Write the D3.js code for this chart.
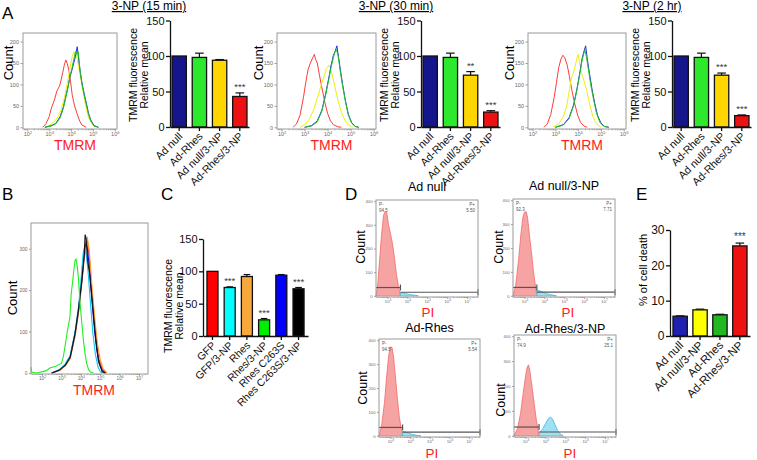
<!DOCTYPE html>
<html><head><meta charset="utf-8">
<script src="https://cdn.jsdelivr.net/npm/d3@7"></script>
<style>body{margin:0;background:#fff}svg{display:block}</style>
</head><body>
<script>
// ================= DATA =================
const groupsA = ["Ad null", "Ad-Rhes", "Ad null/3-NP", "Ad-Rhes/3-NP"];
const titlesA = ["3-NP (15 min)", "3-NP (30 min)", "3-NP (2 hr)"];
const meanA15 = [100, 98, 94, 43];
const errA15 = [0, 6, 1, 5];
const sigA15 = ["", "", "", "***"];
const meanA30 = [100, 98, 73, 21];
const errA30 = [0, 6, 5, 2];
const sigA30 = ["", "", "**", "***"];
const meanA2h = [100, 98, 73, 16];
const errA2h = [0, 6, 3, 1];
const sigA2h = ["", "", "***", "***"];
const barTicksA = [0, 50, 100, 150];

const histXTicksA = [2, 3, 4, 5, 6];
const histYTicksA = [0, 50, 100, 150, 200];
// histogram traces: [log10(TMRM), count]
const hA15red = [[2.7,0],[2.85,8],[3.0,25],[3.1,45],[3.24,64],[3.35,85],[3.47,96],[3.55,112],[3.62,128],[3.7,148],[3.76,157],[3.83,148],[3.9,132],[3.98,105],[4.05,76],[4.15,52],[4.27,32],[4.4,14],[4.5,5],[4.7,0]];
const hA15yel = [[2.8,0],[3.0,4],[3.2,12],[3.4,24],[3.55,42],[3.7,70],[3.85,110],[3.95,138],[4.05,165],[4.12,176],[4.18,170],[4.25,168],[4.35,140],[4.5,96],[4.65,55],[4.8,22],[5.0,5],[5.2,0]];
const hA15blu = [[2.8,0],[3.1,4],[3.3,9],[3.5,25],[3.65,48],[3.76,72],[3.88,100],[3.95,118],[4.05,135],[4.12,150],[4.2,165],[4.28,188],[4.35,157],[4.42,130],[4.5,103],[4.6,78],[4.7,56],[4.8,32],[4.9,17],[5.05,4],[5.25,0]];
const hA15grn = [[2.8,0],[3.1,3],[3.3,8],[3.5,22],[3.65,45],[3.76,70],[3.88,98],[3.95,120],[4.05,140],[4.12,158],[4.18,172],[4.22,178],[4.27,170],[4.33,176],[4.4,135],[4.5,100],[4.6,75],[4.7,52],[4.8,30],[4.9,15],[5.05,3],[5.25,0]];

const hA30red = [[2.5,0],[2.65,8],[2.8,28],[2.95,70],[3.05,105],[3.15,135],[3.25,150],[3.35,162],[3.42,170],[3.48,158],[3.55,150],[3.65,120],[3.75,92],[3.88,58],[4.0,32],[4.12,15],[4.25,6],[4.45,1],[4.6,0]];
const hA30yel = [[2.8,0],[3.0,6],[3.2,18],[3.4,42],[3.55,68],[3.7,95],[3.85,120],[3.95,137],[4.05,145],[4.12,138],[4.2,122],[4.3,98],[4.45,62],[4.6,35],[4.75,16],[4.9,6],[5.1,0]];
const hA30blu = [[3.0,0],[3.3,4],[3.55,15],[3.75,40],[3.9,75],[4.05,115],[4.15,145],[4.25,168],[4.33,178],[4.4,190],[4.47,165],[4.55,135],[4.65,100],[4.78,60],[4.9,30],[5.05,10],[5.2,2],[5.35,0]];
const hA30grn = [[3.0,0],[3.3,3],[3.55,13],[3.75,38],[3.9,72],[4.05,112],[4.15,140],[4.25,163],[4.32,176],[4.38,181],[4.45,168],[4.55,130],[4.65,96],[4.78,58],[4.9,28],[5.05,9],[5.2,2],[5.35,0]];

const hA2hred = [[2.5,0],[2.65,8],[2.8,30],[2.95,70],[3.05,105],[3.15,140],[3.25,160],[3.33,168],[3.42,162],[3.52,145],[3.62,118],[3.72,88],[3.85,55],[3.98,28],[4.1,12],[4.25,3],[4.4,0]];
const hA2hyel = [[2.9,0],[3.15,8],[3.35,25],[3.5,50],[3.62,88],[3.7,115],[3.78,125],[3.86,140],[3.94,160],[4.0,170],[4.06,152],[4.14,128],[4.25,110],[4.38,85],[4.5,55],[4.65,25],[4.8,8],[5.0,0]];
const hA2hblu = [[3.0,0],[3.35,6],[3.6,22],[3.8,52],[3.95,90],[4.08,130],[4.18,162],[4.26,178],[4.33,190],[4.4,160],[4.5,125],[4.6,92],[4.72,58],[4.85,28],[5.0,10],[5.15,2],[5.35,0]];
const hA2hgrn = [[3.0,0],[3.35,5],[3.6,20],[3.8,50],[3.95,88],[4.08,126],[4.18,158],[4.25,172],[4.3,180],[4.36,165],[4.45,135],[4.55,100],[4.68,64],[4.8,34],[4.95,12],[5.1,3],[5.3,0]];

// Panel B
const histXTicksB = [2, 3, 4, 5, 6, 7];
const histYTicksB = [0, 100, 200, 300];
const hBgreen = [[1.43,14],[1.46,2],[1.7,0],[2.2,5],[2.4,12],[2.7,16],[3.0,23],[3.1,40],[3.18,63],[3.3,100],[3.44,136],[3.5,190],[3.55,210],[3.62,240],[3.7,272],[3.75,275],[3.8,262],[3.87,232],[3.96,168],[4.05,120],[4.13,80],[4.22,45],[4.3,23],[4.4,8],[4.5,2],[4.65,0]];
const hBred    = [[2.5,0],[2.9,6],[3.2,18],[3.45,36],[3.7,90],[3.88,148],[4.05,220],[4.18,282],[4.28,318],[4.33,322],[4.42,285],[4.55,200],[4.68,128],[4.8,70],[4.95,30],[5.1,10],[5.3,0]];
const hBorange = [[2.5,0],[2.9,6],[3.2,17],[3.45,35],[3.7,88],[3.88,145],[4.05,215],[4.18,280],[4.28,320],[4.34,326],[4.44,292],[4.58,205],[4.72,130],[4.85,72],[5.0,32],[5.15,10],[5.35,0]];
const hBblue   = [[2.5,0],[2.9,8],[3.2,20],[3.45,40],[3.7,96],[3.88,152],[4.05,225],[4.17,285],[4.26,312],[4.32,305],[4.4,272],[4.55,185],[4.7,105],[4.82,55],[4.95,22],[5.1,6],[5.25,0]];
const hBcyan   = [[2.5,0],[2.9,8],[3.2,22],[3.45,42],[3.7,100],[3.88,160],[4.02,232],[4.12,290],[4.2,306],[4.28,285],[4.38,240],[4.5,165],[4.62,95],[4.75,45],[4.88,15],[5.0,3],[5.1,0]];
const hBblack  = [[2.5,0],[2.9,7],[3.2,19],[3.45,38],[3.7,95],[3.87,151],[4.05,223],[4.17,283],[4.22,334],[4.27,325],[4.35,270],[4.45,240],[4.57,183],[4.74,95],[4.9,30],[5.1,3],[5.27,0]];

// Panel C
const groupsC = ["GFP", "GFP/3-NP", "Rhes", "Rhes/3-NP", "Rhes C263S", "Rhes C263S/3-NP"];
const meanC = [100, 75, 92, 25, 94, 73];
const errC = [0, 1, 3, 2, 1, 2];
const sigC = ["", "***", "", "***", "", "***"];
const barTicksC = [0, 50, 100, 150];

// Panel D
const titlesD = ["Ad null", "Ad null/3-NP", "Ad-Rhes", "Ad-Rhes/3-NP"];
const pNegD = ["94.5", "92.3", "94.5", "74.9"];
const pPosD = ["5.50", "7.71", "5.54", "25.1"];
const gateD = [3.65, 3.62, 3.62, 3.68];
const histXTicksD = [3, 4, 5, 6, 7];
const histYTicksD = [0, 100, 200, 300, 400];
const dRed = [
  [[2.42,0],[2.5,40],[2.6,150],[2.7,260],[2.8,340],[2.88,356],[2.96,352],[3.05,300],[3.15,262],[3.25,220],[3.35,160],[3.45,90],[3.55,40],[3.65,0]],
  [[2.42,0],[2.55,40],[2.7,150],[2.82,260],[2.92,330],[3.0,350],[3.08,352],[3.15,330],[3.25,250],[3.35,180],[3.45,100],[3.55,40],[3.62,0]],
  [[2.42,0],[2.55,40],[2.7,140],[2.82,260],[2.92,340],[3.0,372],[3.08,370],[3.16,330],[3.25,250],[3.35,160],[3.45,80],[3.55,30],[3.62,0]],
  [[2.42,0],[2.6,30],[2.75,90],[2.88,170],[3.0,240],[3.08,275],[3.15,285],[3.22,260],[3.32,200],[3.45,120],[3.55,60],[3.68,0]]
];
const dBlue = [
  [[3.65,0],[3.65,14],[3.8,12],[3.95,9],[4.1,6],[4.3,3],[4.55,0]],
  [[3.62,0],[3.62,24],[3.78,20],[3.95,14],[4.15,8],[4.35,4],[4.6,0]],
  [[3.62,0],[3.62,18],[3.78,15],[3.95,10],[4.15,5],[4.35,2],[4.55,0]],
  [[3.68,0],[3.68,10],[3.85,26],[4.0,48],[4.12,66],[4.25,75],[4.35,68],[4.48,45],[4.62,20],[4.78,5],[4.9,0]]
];

// Panel E
const groupsE = ["Ad null", "Ad null/3-NP", "Ad-Rhes", "Ad-Rhes/3-NP"];
const meanE = [5.6, 7.4, 6.0, 25.5];
const errE = [0.1, 0.2, 0.15, 0.8];
const sigE = ["", "", "", "***"];
const barTicksE = [0, 10, 20, 30];

// ================= DRAWING =================
const FONT = "'Liberation Sans', Arial, Helvetica, sans-serif";
const svg = d3.select("body").append("svg").attr("width", 757).attr("height", 460)
  .attr("font-family", FONT);
svg.append("rect").attr("width", 757).attr("height", 460).attr("fill", "#fff");

function text(g, x, y, s, o = {}) {
  const t = g.append("text").attr("x", x).attr("y", y).text(s)
    .attr("font-size", o.fs || 12).attr("fill", o.fill || "#000")
    .attr("text-anchor", o.anchor || "start");
  if (o.deco) t.attr("text-decoration", o.deco);
  return t;
}
function vtext(g, x, y, s, o = {}) {
  return g.append("text").attr("transform", `translate(${x},${y}) rotate(-90)`)
    .attr("text-anchor", "middle").attr("font-size", o.fs || 12)
    .attr("fill", o.fill || "#000").text(s);
}

function histFrame(g, box, xDom, yDom, xMaj, yTicks, fs, tk) {
  const x = d3.scaleLinear().domain(xDom).range([box.x, box.x + box.w]);
  const y = d3.scaleLinear().domain(yDom).range([box.y + box.h, box.y]);
  const minors = [];
  for (let e = Math.floor(xDom[0]); e < xDom[1]; e++)
    for (let k = 2; k < 10; k++) {
      const v = e + Math.log10(k);
      if (v > xDom[0] && v < xDom[1]) minors.push(v);
    }
  const gm = g.append("g").attr("transform", `translate(0,${box.y + box.h})`)
    .call(d3.axisBottom(x).tickValues(minors).tickSize(tk * 0.5).tickFormat(""));
  const gx = g.append("g").attr("transform", `translate(0,${box.y + box.h})`)
    .call(d3.axisBottom(x).tickValues(xMaj).tickSize(tk).tickPadding(1));
  const gy = g.append("g").attr("transform", `translate(${box.x},0)`)
    .call(d3.axisLeft(y).tickValues(yTicks).tickSize(tk).tickPadding(1.5));
  [gm, gx, gy].forEach(a => {
    a.select(".domain").remove();
    a.selectAll("line").attr("stroke", "#8a8a8a").attr("stroke-width", 0.8);
    a.attr("font-size", fs).attr("font-family", FONT);
    a.selectAll("text").attr("fill", "#6a6a6a");
  });
  gx.selectAll(".tick text").each(function (d) {
    const t = d3.select(this); t.text(null);
    t.append("tspan").text("10");
    t.append("tspan").attr("dy", -fs * 0.45).attr("font-size", fs * 0.75).text(d);
  });
  return { x, y };
}
function frameRect(g, box) {
  g.append("rect").attr("x", box.x).attr("y", box.y).attr("width", box.w).attr("height", box.h)
    .attr("fill", "none").attr("stroke", "#9a9a9a").attr("stroke-width", 1);
}

function barChart(g, c) {
  const x = d3.scaleBand().domain(c.cats).range([c.x0, c.x1]).paddingInner(c.pi).paddingOuter(c.po);
  const y = d3.scaleLinear().domain([0, c.ymax]).range([c.y0, c.y1]);
  const bw = x.bandwidth();
  c.vals.forEach((v, i) => {
    if (!c.errs[i]) return;
    const cx = x(c.cats[i]) + bw / 2;
    g.append("line").attr("x1", cx).attr("x2", cx).attr("y1", y(v)).attr("y2", y(v + c.errs[i]))
      .attr("stroke", "#111").attr("stroke-width", 1.2);
    g.append("line").attr("x1", cx - bw * 0.3).attr("x2", cx + bw * 0.3)
      .attr("y1", y(v + c.errs[i])).attr("y2", y(v + c.errs[i]))
      .attr("stroke", "#111").attr("stroke-width", 1.2);
  });
  g.selectAll(null).data(c.vals).join("rect")
    .attr("x", (d, i) => x(c.cats[i])).attr("width", bw)
    .attr("y", d => y(d)).attr("height", d => c.y0 - y(d))
    .attr("fill", (d, i) => c.colors[i]).attr("stroke", "#111").attr("stroke-width", 1.3);
  c.vals.forEach((v, i) => {
    if (!c.sigs[i]) return;
    const cx = x(c.cats[i]) + bw / 2;
    text(g, cx, y(v + c.errs[i]) - 3, c.sigs[i], { fs: c.sigFs || 9, anchor: "middle", fill: "#3a3a3a" });
  });
  const ya = g.append("g").attr("transform", `translate(${c.x0},0)`)
    .call(d3.axisLeft(y).tickValues(c.ticks).tickSize(4).tickSizeOuter(0).tickPadding(1.5));
  const xa = g.append("g").attr("transform", `translate(0,${c.y0})`)
    .call(d3.axisBottom(x).tickSize(4).tickSizeOuter(0).tickFormat(""));
  [ya, xa].forEach(a => {
    a.attr("font-family", FONT).attr("font-size", c.tickFs);
    a.selectAll("line,path").attr("stroke", "#111").attr("stroke-width", 1.3);
    a.selectAll("text").attr("fill", "#111");
  });
  c.cats.forEach((cat, i) => {
    const cx = x(cat) + bw / 2;
    g.append("text").attr("transform", `translate(${cx + c.catDx},${c.y0 + c.catDy}) rotate(-45)`)
      .attr("text-anchor", "end").attr("font-size", c.catFs).attr("fill", "#111").text(cat);
  });
  return { x, y };
}

// ---------- Panel A ----------
const colorsA = ["#15158c", "#2ee82e", "#ffd600", "#ee1111"];
const histColA = ["#ff3b3b", "#eeee10", "#1f2fe0", "#22c422"];
const meansA = [meanA15, meanA30, meanA2h];
const errsA = [errA15, errA30, errA2h];
const sigsA = [sigA15, sigA30, sigA2h];
const tracesA = [[hA15red, hA15yel, hA15blu, hA15grn], [hA30red, hA30yel, hA30blu, hA30grn], [hA2hred, hA2hyel, hA2hblu, hA2hgrn]];
const histBoxA = [{ x: 23, w: 94 }, { x: 277, w: 99 }, { x: 528, w: 98 }];
const barX0A = [170, 421, 672];
const titleXA = [149, 396, 652];
const countXA = [13, 263, 514];

text(svg, 2, 19, "A", { fs: 17 });
for (let p = 0; p < 3; p++) {
  const g = svg.append("g");
  text(g, titleXA[p], 10, titlesA[p], { fs: 12, anchor: "middle", deco: "underline" });
  const box = { x: histBoxA[p].x, y: 33, w: histBoxA[p].w, h: 96 };
  const { x, y } = histFrame(g, box, [1.8, 6.1], [-4, 220], histXTicksA, histYTicksA, 5.5, 2.5);
  const line = d3.line().x(d => x(d[0])).y(d => y(d[1]));
  tracesA[p].forEach((tr, i) => {
    g.append("path").datum(tr).attr("d", line).attr("fill", "none")
      .attr("stroke", histColA[i]).attr("stroke-width", 1);
  });
  frameRect(g, box);
  vtext(g, countXA[p], 63, "Count", { fs: 13 });
  text(g, box.x + box.w / 2 + 5, 150, "TMRM", { fs: 14, anchor: "middle", fill: "#ff2020" });
  barChart(g, {
    cats: groupsA, vals: meansA[p], errs: errsA[p], sigs: sigsA[p], colors: colorsA,
    x0: barX0A[p], x1: barX0A[p] + 79, pi: 0.29, po: 0.1, y0: 127, y1: 20.5, ymax: 150,
    ticks: barTicksA, tickFs: 11, catFs: 10.8, sigFs: 9.5, catDx: 4, catDy: 10
  });
  vtext(g, barX0A[p] - 33, 75, "TMRM fluorescence", { fs: 10.5 });
  vtext(g, barX0A[p] - 22.5, 75, "Relative mean", { fs: 10.5 });
}

// ---------- Panel B ----------
{
  const g = svg.append("g");
  text(g, 2, 200, "B", { fs: 17 });
  const box = { x: 31, y: 223, w: 117, h: 151 };
  const { x, y } = histFrame(g, box, [1.43, 7.46], [-2.5, 362], histXTicksB, histYTicksB, 4.8, 2);
  const line = d3.line().x(d => x(d[0])).y(d => y(d[1]));
  const tracesB = [hBred, hBorange, hBblue, hBcyan, hBblack, hBgreen];
  const colB = ["#ff3a3a", "#ff9a30", "#1010e8", "#10c8f0", "#111111", "#22ee22"];
  tracesB.forEach((tr, i) => {
    g.append("path").datum(tr).attr("d", line).attr("fill", "none")
      .attr("stroke", colB[i]).attr("stroke-width", 1.1);
  });
  frameRect(g, box);
  vtext(g, 17, 298, "Count", { fs: 13 });
  text(g, 94, 395, "TMRM", { fs: 14, anchor: "middle", fill: "#ff2020" });
}

// ---------- Panel C ----------
{
  const g = svg.append("g");
  text(g, 161, 200, "C", { fs: 17 });
  barChart(g, {
    cats: groupsC, vals: meanC, errs: errC, sigs: sigC,
    colors: ["#ff0000", "#00ffff", "#f8a93c", "#00ee00", "#0000ff", "#000000"],
    x0: 203, x1: 308, pi: 0.36, po: 0.23, y0: 336, y1: 239, ymax: 150,
    ticks: barTicksC, tickFs: 11, catFs: 10.5, sigFs: 9.5, catDx: 4, catDy: 10
  });
  vtext(g, 172, 306, "TMRM fluorescence", { fs: 10.5 });
  vtext(g, 183, 306, "Relative mean", { fs: 10.5 });
}

// ---------- Panel D ----------
{
  const g = svg.append("g");
  text(g, 345, 200, "D", { fs: 17 });
  const boxes = [{ x: 376, y: 200, w: 102, h: 97 }, { x: 513, y: 199, w: 102, h: 98 },
                 { x: 379, y: 339, w: 101, h: 98 }, { x: 514, y: 335, w: 102, h: 102 }];
  const titleY = [191, 190, 332, 333];
  const countPos = [[365, 247], [503, 247], [367, 388], [505, 400]];
  const piPos = [[428, 317], [568, 317], [432, 458], [570, 458]];
  boxes.forEach((box, i) => {
    const { x, y } = histFrame(g, box, [2.42, 7.55], [-5, 405], histXTicksD, histYTicksD, 4.2, 2);
    const area = d3.area().x(d => x(d[0])).y0(y(0)).y1(d => y(d[1]));
    g.append("path").datum(dRed[i]).attr("d", area).attr("fill", "#f6a3a3")
      .attr("stroke", "#f26a6a").attr("stroke-width", 0.8);
    g.append("path").datum(dBlue[i]).attr("d", area).attr("fill", "#9fe0f2")
      .attr("stroke", "#3cbde3").attr("stroke-width", 0.8);
    const gx = x(gateD[i]);
    const gl = y(35), gr = y(15);
    g.append("line").attr("x1", box.x).attr("x2", gx).attr("y1", gl).attr("y2", gl)
      .attr("stroke", "#555").attr("stroke-width", 1.2);
    g.append("line").attr("x1", gx).attr("x2", gx).attr("y1", gl - 3).attr("y2", gl + 3)
      .attr("stroke", "#555").attr("stroke-width", 1.2);
    g.append("line").attr("x1", gx).attr("x2", box.x + box.w).attr("y1", gr).attr("y2", gr)
      .attr("stroke", "#555").attr("stroke-width", 1.2);
    g.append("line").attr("x1", box.x + box.w).attr("x2", box.x + box.w).attr("y1", gr - 3).attr("y2", gr + 3)
      .attr("stroke", "#555").attr("stroke-width", 1.2);
    frameRect(g, box);
    text(g, box.x + 3, box.y + 6, "P-", { fs: 4.5, fill: "#555" });
    text(g, box.x + 3, box.y + 12, pNegD[i], { fs: 4.5, fill: "#555" });
    text(g, box.x + box.w - 3, box.y + 6, "P+", { fs: 4.5, fill: "#555", anchor: "end" });
    text(g, box.x + box.w - 3, box.y + 12, pPosD[i], { fs: 4.5, fill: "#555", anchor: "end" });
    text(g, box.x + box.w / 2, titleY[i], titlesD[i], { fs: 12.5, anchor: "middle" });
    vtext(g, countPos[i][0], countPos[i][1], "Count", { fs: 12.5 });
    text(g, piPos[i][0], piPos[i][1], "PI", { fs: 13.5, anchor: "middle", fill: "#ff2020" });
  });
}

// ---------- Panel E ----------
{
  const g = svg.append("g");
  text(g, 636, 200, "E", { fs: 17 });
  barChart(g, {
    cats: groupsE, vals: meanE, errs: errE, sigs: sigE,
    colors: ["#2020b0", "#ffff00", "#22b822", "#ee1111"],
    x0: 670, x1: 750, pi: 0.28, po: 0.15, y0: 336, y1: 230, ymax: 30,
    ticks: barTicksE, tickFs: 12, catFs: 11.5, sigFs: 10, catDx: 4, catDy: 10
  });
  vtext(g, 647, 270, "% of cell death", { fs: 11 });
}
</script>
</body></html>
